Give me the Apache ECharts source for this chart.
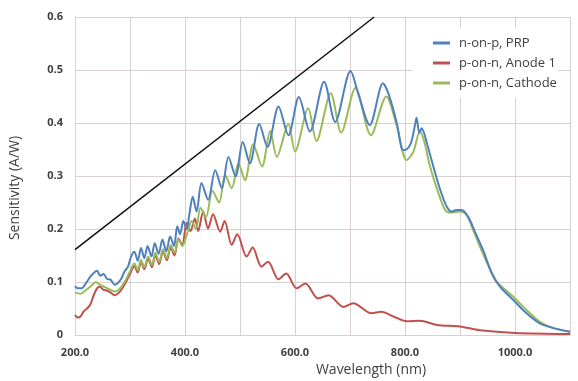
<!DOCTYPE html>
<html>
<head>
<meta charset="utf-8">
<script src="https://cdn.jsdelivr.net/npm/echarts@6/dist/echarts.min.js"></script>
<style>
html,body{margin:0;padding:0;background:#fff;}
#chart{width:578px;height:381px;}
</style>
</head>
<body>
<div id="chart"></div>
<script>
// ---- data ----
var seriesNames = ['n-on-p, PRP', 'p-on-n, Anode 1', 'p-on-n, Cathode'];
var xTickLabels = ['200.0', '400.0', '600.0', '800.0', '1000.0'];
var yTickLabels = ['0', '0.1', '0.2', '0.3', '0.4', '0.5', '0.6'];

var prpWl = [200,205,212,220,228,235,240,246,252,258,265,272,278,284,290,296,302,308,314,320,326,332,339,345,352,359,366,373,380,386,391,397,403,408,414,421,430,442,455,467,479,492,505,518,535,550,570,588,607,627,653,673,701,715,736,760,770,785,794,800,810,818,821,826,830,835,839,855,864,876,885,893,903,915,927,942,958,973,997,1021,1045,1070,1100];
var prpVal = [0.092,0.088,0.088,0.098,0.110,0.118,0.121,0.112,0.115,0.106,0.104,0.095,0.098,0.106,0.120,0.128,0.148,0.157,0.140,0.164,0.145,0.168,0.148,0.173,0.153,0.180,0.158,0.186,0.168,0.205,0.190,0.215,0.200,0.228,0.261,0.233,0.287,0.255,0.311,0.277,0.336,0.299,0.364,0.324,0.398,0.355,0.431,0.377,0.449,0.384,0.478,0.402,0.498,0.455,0.396,0.475,0.455,0.400,0.352,0.349,0.360,0.395,0.410,0.381,0.390,0.380,0.365,0.305,0.274,0.242,0.233,0.236,0.236,0.223,0.195,0.160,0.116,0.091,0.066,0.041,0.022,0.013,0.006];

var anodeWl = [200,205,210,216,222,228,234,240,245,252,258,265,272,280,290,300,308,314,320,326,333,340,346,353,360,367,374,381,388,395,403,410,418,424,433,442,451,464,472,485,495,512,523,539,551,570,584,603,619,642,661,688,706,739,757,779,803,827,858,900,936,1000,1100];
var anodeVal = [0.038,0.033,0.035,0.045,0.050,0.058,0.075,0.088,0.091,0.085,0.084,0.080,0.075,0.080,0.095,0.115,0.130,0.118,0.138,0.124,0.144,0.128,0.150,0.134,0.158,0.141,0.165,0.150,0.182,0.170,0.212,0.196,0.220,0.196,0.233,0.201,0.228,0.195,0.215,0.170,0.190,0.148,0.165,0.129,0.138,0.105,0.116,0.088,0.097,0.069,0.075,0.053,0.060,0.041,0.044,0.035,0.026,0.027,0.019,0.016,0.009,0.004,0.002];

var cathWl = [200,210,220,230,238,245,255,265,272,280,290,300,308,314,320,326,333,340,346,353,360,367,374,381,388,395,405,412,420,428,438,450,462,473,485,497,509,524,540,555,567,588,600,624,639,665,684,710,738,766,785,803,815,827,835,845,860,873,882,900,912,924,939,955,967,997,1021,1045,1070,1100];
var cathVal = [0.080,0.078,0.085,0.093,0.100,0.095,0.090,0.085,0.082,0.086,0.100,0.120,0.135,0.122,0.142,0.128,0.148,0.132,0.155,0.138,0.162,0.145,0.170,0.155,0.180,0.168,0.195,0.215,0.200,0.240,0.222,0.272,0.250,0.302,0.277,0.324,0.292,0.360,0.318,0.385,0.336,0.398,0.346,0.428,0.366,0.456,0.382,0.466,0.377,0.450,0.395,0.330,0.345,0.384,0.365,0.320,0.270,0.236,0.231,0.233,0.226,0.198,0.160,0.123,0.100,0.072,0.047,0.025,0.013,0.006];

var idealWl = [200, 744];
var idealVal = [0.161, 0.6];

function pairs(xs, ys) { return xs.map(function (x, i) { return [x, ys[i]]; }); }

var chart = echarts.init(document.getElementById('chart'), null, {renderer: 'canvas'});
var FONT = '"Open Sans", "Liberation Sans", sans-serif';
var gridColor = '#d9d1d1';
var textColor = '#404040';

chart.setOption({
  backgroundColor: '#ffffff',
  animation: false,
  grid: {left: 75, right: 8, top: 17, bottom: 46, containLabel: false},
  xAxis: {
    type: 'value', min: 200, max: 1100, interval: 100,
    axisLine: {show: true, lineStyle: {color: gridColor, width: 1}},
    axisTick: {show: false},
    splitLine: {show: true, lineStyle: {color: gridColor, width: 1}},
    axisLabel: {
      margin: 12, color: textColor, fontFamily: FONT, fontSize: 11, fontWeight: 'bold',
      formatter: function (v) {
        var idx = (v - 200) / 200;
        return (Number.isInteger(idx) && xTickLabels[idx]) ? xTickLabels[idx] : '';
      }
    }
  },
  yAxis: {
    type: 'value', min: 0, max: 0.6, interval: 0.1,
    axisLine: {show: true, lineStyle: {color: gridColor, width: 1}},
    axisTick: {show: false},
    splitLine: {show: true, lineStyle: {color: gridColor, width: 1}},
    axisLabel: {
      margin: 12, color: textColor, fontFamily: FONT, fontSize: 11, fontWeight: 'bold',
      formatter: function (v) { return yTickLabels[Math.round(v * 10)]; }
    }
  },
  legend: {
    left: 412, top: 28, orient: 'vertical',
    backgroundColor: '#ffffff',
    padding: [7, 1, 7, 21],
    itemGap: 4, itemWidth: 17, itemHeight: 3, icon: 'rect',
    textStyle: {color: textColor, fontFamily: FONT, fontSize: 13, lineHeight: 16, padding: [0, 0, 0, 4]},
    data: seriesNames
  },
  graphic: [
    {type: 'text', rotation: Math.PI / 2, x: 15, y: 188,
     style: {text: 'Sensitivity (A/W)', fill: textColor, font: '14px ' + FONT, textAlign: 'center', textVerticalAlign: 'middle'}},
    {type: 'text', x: 371, y: 370,
     style: {text: 'Wavelength (nm)', fill: textColor, font: '14px ' + FONT, textAlign: 'center', textVerticalAlign: 'middle'}}
  ],
  series: [
    {name: 'ideal', type: 'line', data: pairs(idealWl, idealVal), symbol: 'none',
     lineStyle: {color: '#111111', width: 1.5}, z: 1, silent: true},
    {name: seriesNames[1], type: 'line', data: pairs(anodeWl, anodeVal), symbol: 'none', smooth: 0.3,
     itemStyle: {color: '#c0504d'}, lineStyle: {color: '#c0504d', width: 2}, z: 2},
    {name: seriesNames[2], type: 'line', data: pairs(cathWl, cathVal), symbol: 'none', smooth: 0.3,
     itemStyle: {color: '#9bbb59'}, lineStyle: {color: '#9bbb59', width: 2}, z: 3},
    {name: seriesNames[0], type: 'line', data: pairs(prpWl, prpVal), symbol: 'none', smooth: 0.3,
     itemStyle: {color: '#4f81bd'}, lineStyle: {color: '#4f81bd', width: 2}, z: 4}
  ]
});
</script>
</body>
</html>
